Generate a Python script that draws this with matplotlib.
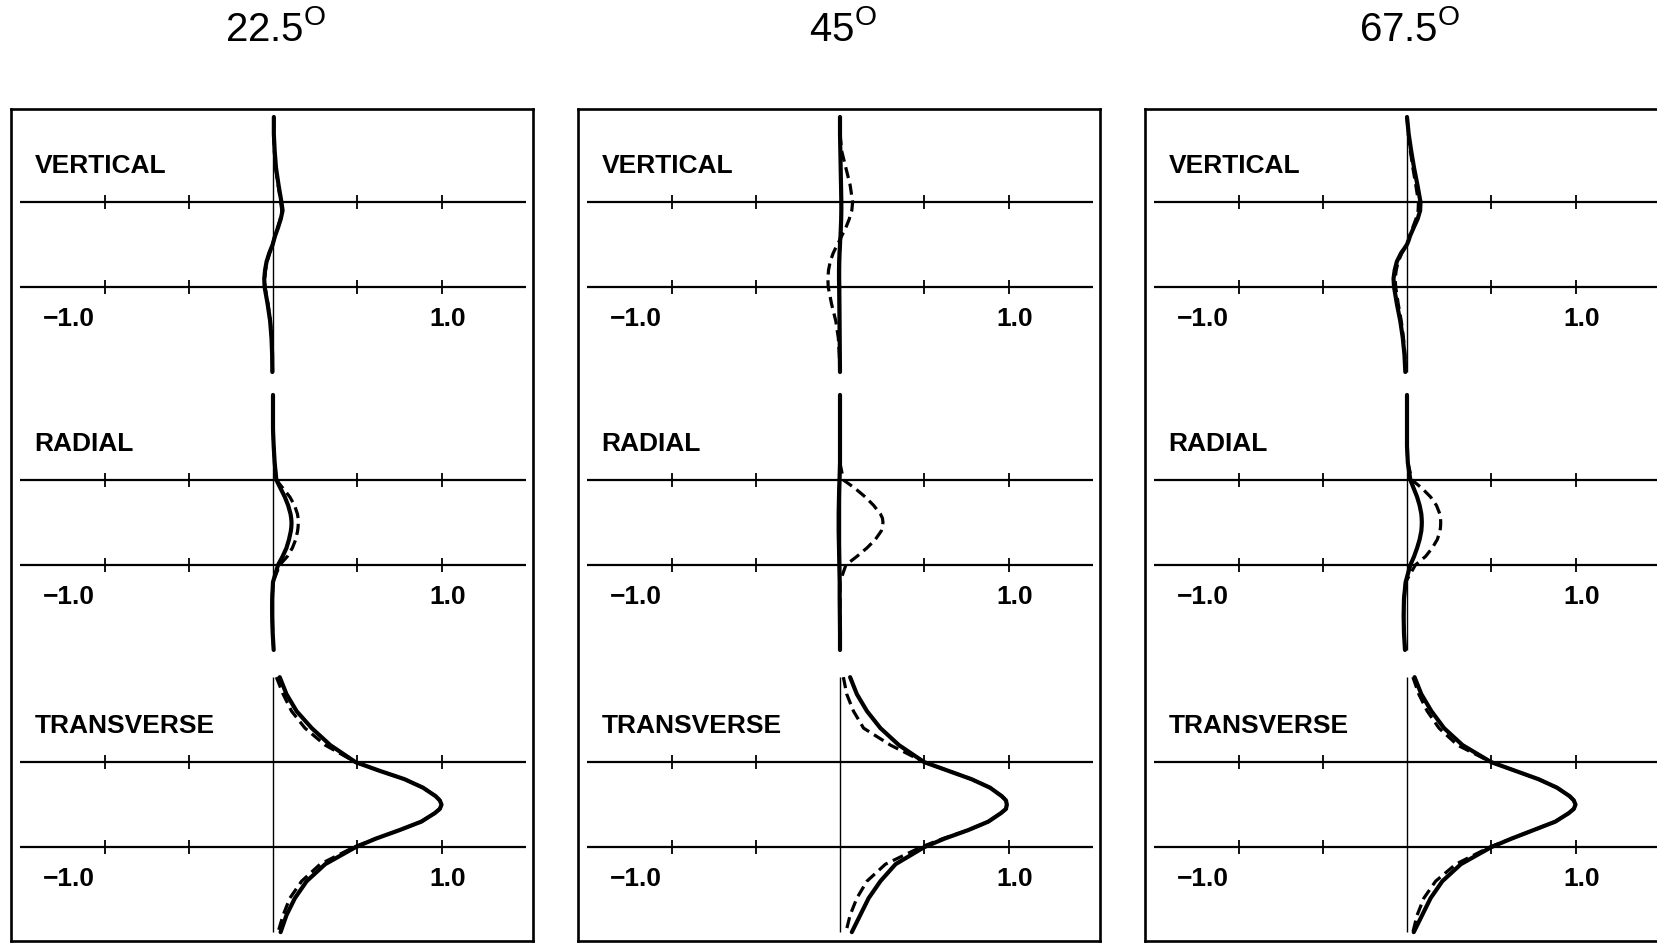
import numpy as np
import matplotlib
matplotlib.use("Agg")
import matplotlib.pyplot as plt

plt.rcParams['font.family'] = ['Liberation Sans', 'DejaVu Sans']

# depth (layer top = 0, layer bottom = 1)
depth = [-1.0, -0.8, -0.6, -0.4, -0.2, 0.0, 0.1, 0.2, 0.3, 0.4, 0.45, 0.5, 0.55,
         0.6, 0.7, 0.8, 0.9, 1.0, 1.2, 1.4, 1.6, 1.8, 2.0]

angles = ["22.5", "45", "67.5"]
components = ["VERTICAL", "RADIAL", "TRANSVERSE"]

# 22.5 deg
vert_22_solid = [0.005, 0.005, 0.01, 0.018, 0.033, 0.05, 0.057, 0.046, 0.03, 0.012, 0.005, -0.002, -0.012,
                 -0.022, -0.038, -0.047, -0.052, -0.05, -0.032, -0.017, -0.009, -0.005, -0.004]
vert_22_dash = [0.004, 0.004, 0.008, 0.016, 0.03, 0.046, 0.052, 0.043, 0.028, 0.011, 0.004, -0.002, -0.011,
                -0.02, -0.035, -0.044, -0.049, -0.047, -0.03, -0.016, -0.008, -0.004, -0.003]
rad_22_solid = [0.0, 0.0, 0.0, 0.004, 0.01, 0.02, 0.045, 0.07, 0.09, 0.104, 0.108, 0.11, 0.109,
                0.106, 0.095, 0.08, 0.057, 0.03, 0.0, -0.005, -0.005, -0.002, 0.004]
rad_22_dash = [0.0, 0.0, 0.0, 0.004, 0.01, 0.02, 0.06, 0.1, 0.128, 0.145, 0.149, 0.15, 0.149,
               0.146, 0.135, 0.115, 0.085, 0.04, 0.0, -0.005, -0.005, -0.002, 0.004]
trans_22_solid = [0.04, 0.08, 0.14, 0.23, 0.34, 0.49, 0.63, 0.78, 0.89, 0.965, 0.99, 1.0, 0.99,
                  0.96, 0.88, 0.75, 0.61, 0.49, 0.31, 0.2, 0.13, 0.08, 0.045]
trans_22_dash = [0.02, 0.06, 0.11, 0.19, 0.31, 0.49, 0.63, 0.78, 0.89, 0.965, 0.99, 1.0, 0.99,
                 0.96, 0.88, 0.75, 0.61, 0.48, 0.28, 0.17, 0.1, 0.06, 0.03]

# 45 deg
vert_45_solid = [0.0, 0.0, 0.002, 0.004, 0.006, 0.008, 0.008, 0.007, 0.005, 0.003, 0.001, 0.0, -0.001,
                 -0.003, -0.005, -0.006, -0.006, -0.005, -0.004, -0.003, -0.002, -0.001, 0.0]
vert_45_dash = [0.0, 0.0, 0.01, 0.035, 0.06, 0.075, 0.07, 0.055, 0.035, 0.01, -0.002, -0.015, -0.028,
                -0.04, -0.058, -0.068, -0.072, -0.07, -0.05, -0.025, -0.01, -0.004, 0.0]
rad_45_solid = [0.0, 0.0, 0.0, 0.0, 0.0, -0.003, -0.005, -0.006, -0.007, -0.008, -0.008, -0.008, -0.008,
                -0.008, -0.007, -0.006, -0.005, -0.004, -0.002, -0.002, -0.001, 0.0, 0.0]
rad_45_dash = [0.0, 0.0, 0.0, 0.0, 0.0, 0.02, 0.09, 0.15, 0.2, 0.24, 0.252, 0.255, 0.252,
               0.245, 0.21, 0.16, 0.1, 0.035, 0.0, 0.0, 0.0, 0.0, 0.0]
trans_45_solid = [0.06, 0.1, 0.16, 0.24, 0.35, 0.5, 0.64, 0.78, 0.89, 0.96, 0.985, 0.99, 0.985,
                  0.955, 0.88, 0.76, 0.62, 0.5, 0.33, 0.24, 0.17, 0.12, 0.07]
trans_45_dash = [0.02, 0.04, 0.08, 0.14, 0.3, 0.5, 0.64, 0.78, 0.89, 0.96, 0.985, 0.99, 0.985,
                 0.955, 0.88, 0.76, 0.61, 0.48, 0.27, 0.16, 0.1, 0.06, 0.035]

# 67.5 deg
vert_67_solid = [0.0, 0.01, 0.025, 0.042, 0.062, 0.08, 0.078, 0.063, 0.04, 0.018, 0.01, 0.0, -0.017,
                 -0.035, -0.06, -0.073, -0.08, -0.077, -0.06, -0.04, -0.025, -0.015, -0.01]
vert_67_dash = [0.0, 0.008, 0.02, 0.035, 0.052, 0.068, 0.066, 0.053, 0.034, 0.015, 0.008, 0.0, -0.015,
                -0.03, -0.052, -0.064, -0.07, -0.067, -0.052, -0.034, -0.021, -0.012, -0.008]
rad_67_solid = [0.0, 0.0, 0.0, 0.0, 0.005, 0.02, 0.04, 0.06, 0.075, 0.085, 0.087, 0.088, 0.087,
                0.085, 0.075, 0.06, 0.042, 0.02, -0.008, -0.018, -0.02, -0.018, -0.012]
rad_67_dash = [0.0, 0.0, 0.0, 0.0, 0.005, 0.03, 0.09, 0.14, 0.175, 0.195, 0.199, 0.2, 0.199,
               0.196, 0.18, 0.15, 0.11, 0.05, -0.008, -0.018, -0.02, -0.018, -0.012]
trans_67_solid = [0.045, 0.085, 0.145, 0.22, 0.33, 0.5, 0.64, 0.78, 0.89, 0.965, 0.99, 1.0, 0.99,
                  0.96, 0.88, 0.75, 0.62, 0.5, 0.32, 0.21, 0.14, 0.09, 0.04]
trans_67_dash = [0.035, 0.07, 0.12, 0.19, 0.3, 0.5, 0.64, 0.78, 0.89, 0.965, 0.99, 1.0, 0.99,
                 0.96, 0.88, 0.75, 0.62, 0.49, 0.29, 0.17, 0.1, 0.06, 0.035]

curves = [
    [(vert_22_solid, vert_22_dash), (rad_22_solid, rad_22_dash), (trans_22_solid, trans_22_dash)],
    [(vert_45_solid, vert_45_dash), (rad_45_solid, rad_45_dash), (trans_45_solid, trans_45_dash)],
    [(vert_67_solid, vert_67_dash), (rad_67_solid, rad_67_dash), (trans_67_solid, trans_67_dash)],
]

tick_x = [-1.0, -0.5, 0.5, 1.0]

# layout (pixels of the 1657x943 figure)
W, H = 1657, 943
zero_px = [273, 840, 1407]
unit_px = 168.5
xlim = (-1.555, 1.545)
top_px, bot_px = 109, 941
row_off = [0.0, 3.27, 6.59]
ylim = ((bot_px - 202) / 85.0, (top_px - 202) / 85.0)

fig = plt.figure(figsize=(W / 100, H / 100), dpi=100)

for p in range(3):
    left = zero_px[p] + xlim[0] * unit_px
    width = (xlim[1] - xlim[0]) * unit_px
    ax = fig.add_axes([left / W, 1 - bot_px / H, width / W, (bot_px - top_px) / H])
    ax.set_xlim(*xlim)
    ax.set_ylim(*ylim)
    ax.set_xticks([])
    ax.set_yticks([])
    for s in ax.spines.values():
        s.set_linewidth(1.9)

    for r in range(3):
        off = row_off[r]
        z = np.array(depth) + off
        # layer boundaries
        ax.hlines([off, off + 1], -1.5, 1.5, color='black', lw=1.6)
        ax.vlines(tick_x, off - 0.085, off + 0.085, color='black', lw=1.3)
        ax.vlines(tick_x, off + 1 - 0.085, off + 1 + 0.085, color='black', lw=1.3)
        # zero axis
        ax.vlines(0, off - 1, off + 2, color='black', lw=1.0)

        solid, dash = curves[p][r]
        ax.plot(dash, z, color='black', lw=2.3, ls=(0, (3.5, 1.8)))
        ax.plot(solid, z, color='black', lw=3.0, solid_capstyle='round',
                solid_joinstyle='round')

        ax.text(-1.415, off - 0.42, components[r], fontsize=19, fontweight='bold',
                ha='left', va='center')
        ax.text(-1.21, off + 1.38, '\u22121.0', fontsize=19, fontweight='bold',
                ha='center', va='center')
        ax.text(1.035, off + 1.38, '1.0', fontsize=19, fontweight='bold',
                ha='center', va='center')

    fig.text((zero_px[p] + 3) / W, 1 - 41 / H, angles[p] + r'$^{\mathregular{O}}$',
             fontsize=29, ha='center', va='baseline')

fig.savefig('out.png', dpi=100)
